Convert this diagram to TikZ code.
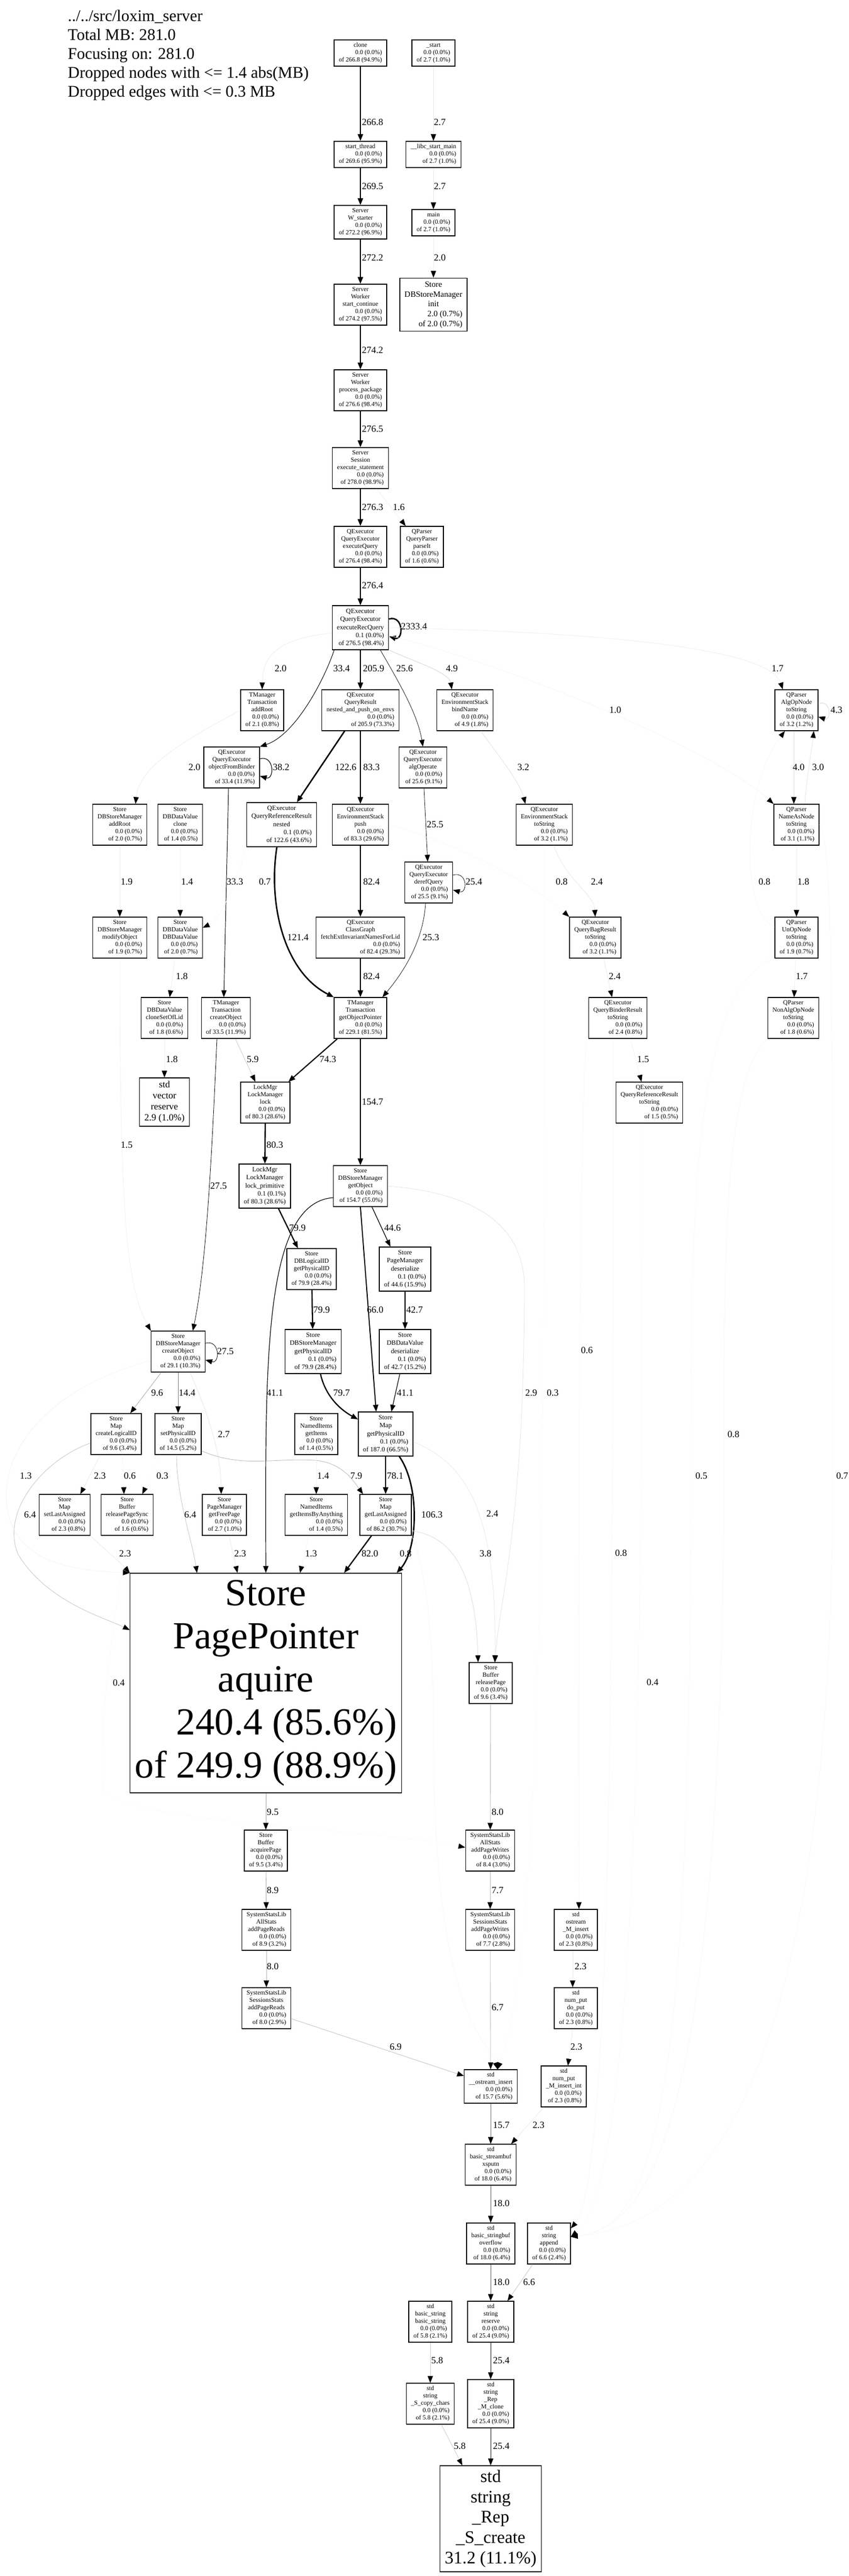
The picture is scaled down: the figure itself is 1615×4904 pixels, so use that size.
\documentclass[tikz,border=0pt]{standalone}
\usepackage{fontspec}
\setmainfont{Liberation Serif}
\usetikzlibrary{arrows.meta}
\newcommand{\fnt}[1]{\begin{tabular}{@{}c@{}}#1\end{tabular}}
\newcommand{\hdt}[1]{\begin{tabular}{@{}l@{}}#1\end{tabular}}
\tikzstyle{fn} = [rectangle, draw=black, line width=1.3pt, inner xsep=9pt, inner ysep=4pt, font=\fontsize{12}{14}\selectfont]
\tikzstyle{fnb} = [fn, font=\fontsize{12.6}{15.2}\selectfont]
\tikzstyle{elab} = [inner sep=0pt, font=\fontsize{18}{20}\selectfont]
\tikzstyle{hdr} = [anchor=north west, inner sep=0pt, font=\fontsize{31}{36}\selectfont]
\tikzset{flow/.style={/utils/exec={\pgfmathsetmacro\flowpct{min(100,3.625*#1)}}, draw=black!\flowpct, line width={max(0.8,min(2.72,0.029*#1))*1pt}, -{Triangle[length=13pt,width=10pt,color=black]}}}
\begin{document}
\begin{tikzpicture}[x=1pt,y=-1pt]
\useasboundingbox (0,0) rectangle (1615,4904);
\fill [white] (0,0) rectangle (1615,4904);
\node (head) [hdr] at (129,15) {\hdt{../../src/loxim\_server\\Total MB: 281.0\\Focusing on: 281.0\\Dropped nodes with <= 1.4 abs(MB)\\Dropped edges with <= 0.3 MB}};

\node (clone) [fn] at (686,101) {\fnt{clone\\\hfill 0.0 (0.0\%)\\\hfill of 266.8 (94.9\%)}};
\node (start) [fn] at (825,101) {\fnt{\_start\\\hfill 0.0 (0.0\%)\\\hfill of 2.7 (1.0\%)}};
\node (thr) [fn] at (686,294) {\fnt{start\_thread\\\hfill 0.0 (0.0\%)\\\hfill of 269.6 (95.9\%)}};
\node (libc) [fn] at (825,294) {\fnt{\_\_libc\_start\_main\\\hfill 0.0 (0.0\%)\\\hfill of 2.7 (1.0\%)}};
\node (wst) [fn] at (686,423) {\fnt{Server\\W\_starter\\\hfill 0.0 (0.0\%)\\\hfill of 272.2 (96.9\%)}};
\node (main) [fn] at (825,424) {\fnt{main\\\hfill 0.0 (0.0\%)\\\hfill of 2.7 (1.0\%)}};
\node (wsc) [fn] at (686,580) {\fnt{Server\\Worker\\start\_continue\\\hfill 0.0 (0.0\%)\\\hfill of 274.2 (97.5\%)}};
\node (init) [fn, font=\fontsize{15.6}{18.7}\selectfont] at (825,580) {\fnt{Store\\DBStoreManager\\init\\\hfill 2.0 (0.7\%)\\\hfill of 2.0 (0.7\%)}};
\node (wpp) [fn] at (686,743) {\fnt{Server\\Worker\\process\_package\\\hfill 0.0 (0.0\%)\\\hfill of 276.6 (98.4\%)}};
\node (ses) [fn] at (686,891) {\fnt{Server\\Session\\execute\_statement\\\hfill 0.0 (0.0\%)\\\hfill of 278.0 (98.9\%)}};
\node (exq) [fn] at (686,1041) {\fnt{QExecutor\\QueryExecutor\\executeQuery\\\hfill 0.0 (0.0\%)\\\hfill of 276.4 (98.4\%)}};
\node (prs) [fn] at (803,1041) {\fnt{QParser\\QueryParser\\parseIt\\\hfill 0.0 (0.0\%)\\\hfill of 1.6 (0.6\%)}};
\node (erq) [fnb] at (686,1195) {\fnt{QExecutor\\QueryExecutor\\executeRecQuery\\\hfill 0.1 (0.0\%)\\\hfill of 276.5 (98.4\%)}};
\node (tadd) [fn] at (499,1352) {\fnt{TManager\\Transaction\\addRoot\\\hfill 0.0 (0.0\%)\\\hfill of 2.1 (0.8\%)}};
\node (nap) [fn] at (686,1352) {\fnt{QExecutor\\QueryResult\\nested\_and\_push\_on\_envs\\\hfill 0.0 (0.0\%)\\\hfill of 205.9 (73.3\%)}};
\node (bind) [fn] at (885,1352) {\fnt{QExecutor\\EnvironmentStack\\bindName\\\hfill 0.0 (0.0\%)\\\hfill of 4.9 (1.8\%)}};
\node (algts) [fn] at (1516,1352) {\fnt{QParser\\AlgOpNode\\toString\\\hfill 0.0 (0.0\%)\\\hfill of 3.2 (1.2\%)}};
\node (ofb) [fn] at (441,1461) {\fnt{QExecutor\\QueryExecutor\\objectFromBinder\\\hfill 0.0 (0.0\%)\\\hfill of 33.4 (11.9\%)}};
\node (alg) [fn] at (805,1461) {\fnt{QExecutor\\QueryExecutor\\algOperate\\\hfill 0.0 (0.0\%)\\\hfill of 25.6 (9.1\%)}};
\node (sadd) [fn] at (228,1570) {\fnt{Store\\DBStoreManager\\addRoot\\\hfill 0.0 (0.0\%)\\\hfill of 2.0 (0.7\%)}};
\node (dvcl) [fn] at (343,1570) {\fnt{Store\\DBDataValue\\clone\\\hfill 0.0 (0.0\%)\\\hfill of 1.4 (0.5\%)}};
\node (qrn) [fnb] at (536,1570) {\fnt{QExecutor\\QueryReferenceResult\\nested\\\hfill 0.1 (0.0\%)\\\hfill of 122.6 (43.6\%)}};
\node (push) [fn] at (686,1570) {\fnt{QExecutor\\EnvironmentStack\\push\\\hfill 0.0 (0.0\%)\\\hfill of 83.3 (29.6\%)}};
\node (ests) [fn] at (1036,1570) {\fnt{QExecutor\\EnvironmentStack\\toString\\\hfill 0.0 (0.0\%)\\\hfill of 3.2 (1.1\%)}};
\node (nats) [fn] at (1516,1570) {\fnt{QParser\\NameAsNode\\toString\\\hfill 0.0 (0.0\%)\\\hfill of 3.1 (1.1\%)}};
\node (deref) [fn] at (816,1680) {\fnt{QExecutor\\QueryExecutor\\derefQuery\\\hfill 0.0 (0.0\%)\\\hfill of 25.5 (9.1\%)}};
\node (modo) [fn] at (228,1785) {\fnt{Store\\DBStoreManager\\modifyObject\\\hfill 0.0 (0.0\%)\\\hfill of 1.9 (0.7\%)}};
\node (dvdv) [fn] at (343,1785) {\fnt{Store\\DBDataValue\\DBDataValue\\\hfill 0.0 (0.0\%)\\\hfill of 2.0 (0.7\%)}};
\node (fext) [fn] at (686,1785) {\fnt{QExecutor\\ClassGraph\\fetchExtInvariantNamesForLid\\\hfill 0.0 (0.0\%)\\\hfill of 82.4 (29.3\%)}};
\node (qbts) [fn] at (1133,1785) {\fnt{QExecutor\\QueryBagResult\\toString\\\hfill 0.0 (0.0\%)\\\hfill of 3.2 (1.1\%)}};
\node (unts) [fn] at (1516,1785) {\fnt{QParser\\UnOpNode\\toString\\\hfill 0.0 (0.0\%)\\\hfill of 1.9 (0.7\%)}};
\node (csl) [fn] at (313,1938) {\fnt{Store\\DBDataValue\\cloneSetOfLid\\\hfill 0.0 (0.0\%)\\\hfill of 1.8 (0.6\%)}};
\node (tco) [fn] at (430,1938) {\fnt{TManager\\Transaction\\createObject\\\hfill 0.0 (0.0\%)\\\hfill of 33.5 (11.9\%)}};
\node (gop) [fn] at (686,1938) {\fnt{TManager\\Transaction\\getObjectPointer\\\hfill 0.0 (0.0\%)\\\hfill of 229.1 (81.5\%)}};
\node (qbrts) [fn] at (1176,1938) {\fnt{QExecutor\\QueryBinderResult\\toString\\\hfill 0.0 (0.0\%)\\\hfill of 2.4 (0.8\%)}};
\node (nonts) [fn] at (1510,1938) {\fnt{QParser\\NonAlgOpNode\\toString\\\hfill 0.0 (0.0\%)\\\hfill of 1.8 (0.6\%)}};
\node (vres) [fn, font=\fontsize{18}{21}\selectfont] at (313,2098) {\fnt{std\\vector\\reserve\\\hfill 2.9 (1.0\%)}};
\node (lock) [fn] at (505,2099) {\fnt{LockMgr\\LockManager\\lock\\\hfill 0.0 (0.0\%)\\\hfill of 80.3 (28.6\%)}};
\node (qrrts) [fn] at (1236,2099) {\fnt{QExecutor\\QueryReferenceResult\\toString\\\hfill 0.0 (0.0\%)\\\hfill of 1.5 (0.5\%)}};
\node (lockp) [fnb] at (504,2258) {\fnt{LockMgr\\LockManager\\lock\_primitive\\\hfill 0.1 (0.1\%)\\\hfill of 80.3 (28.6\%)}};
\node (gobj) [fn] at (686,2258) {\fnt{Store\\DBStoreManager\\getObject\\\hfill 0.0 (0.0\%)\\\hfill of 154.7 (55.0\%)}};
\node (lgpid) [fn] at (593,2416) {\fnt{Store\\DBLogicalID\\getPhysicalID\\\hfill 0.0 (0.0\%)\\\hfill of 79.9 (28.4\%)}};
\node (pmds) [fnb] at (771,2416) {\fnt{Store\\PageManager\\deserialize\\\hfill 0.1 (0.0\%)\\\hfill of 44.6 (15.9\%)}};
\node (sco) [fn] at (339,2573) {\fnt{Store\\DBStoreManager\\createObject\\\hfill 0.0 (0.0\%)\\\hfill of 29.1 (10.3\%)}};
\node (sgpid) [fnb] at (596,2573) {\fnt{Store\\DBStoreManager\\getPhysicalID\\\hfill 0.1 (0.0\%)\\\hfill of 79.9 (28.4\%)}};
\node (dvds) [fnb] at (771,2573) {\fnt{Store\\DBDataValue\\deserialize\\\hfill 0.1 (0.0\%)\\\hfill of 42.7 (15.2\%)}};
\node (mcl) [fn] at (221,2730) {\fnt{Store\\Map\\createLogicalID\\\hfill 0.0 (0.0\%)\\\hfill of 9.6 (3.4\%)}};
\node (mspid) [fn] at (339,2730) {\fnt{Store\\Map\\setPhysicalID\\\hfill 0.0 (0.0\%)\\\hfill of 14.5 (5.2\%)}};
\node (nig) [fn] at (602,2730) {\fnt{Store\\NamedItems\\getItems\\\hfill 0.0 (0.0\%)\\\hfill of 1.4 (0.5\%)}};
\node (mgpid) [fnb] at (734,2730) {\fnt{Store\\Map\\getPhysicalID\\\hfill 0.1 (0.0\%)\\\hfill of 187.0 (66.5\%)}};
\node (msla) [fn] at (123,2884) {\fnt{Store\\Map\\setLastAssigned\\\hfill 0.0 (0.0\%)\\\hfill of 2.3 (0.8\%)}};
\node (rps) [fn] at (242,2884) {\fnt{Store\\Buffer\\releasePageSync\\\hfill 0.0 (0.0\%)\\\hfill of 1.6 (0.6\%)}};
\node (gfp) [fn] at (427,2884) {\fnt{Store\\PageManager\\getFreePage\\\hfill 0.0 (0.0\%)\\\hfill of 2.7 (1.0\%)}};
\node (niba) [fn] at (602,2884) {\fnt{Store\\NamedItems\\getItemsByAnything\\\hfill 0.0 (0.0\%)\\\hfill of 1.4 (0.5\%)}};
\node (mgla) [fn] at (734,2884) {\fnt{Store\\Map\\getLastAssigned\\\hfill 0.0 (0.0\%)\\\hfill of 86.2 (30.7\%)}};
\node (ppa) [fn, font=\fontsize{73}{82}\selectfont] at (506,3204) {\fnt{Store\\PagePointer\\aquire\\\hfill 240.4 (85.6\%)\\\hfill of 249.9 (88.9\%)}};
\node (rpg) [fn] at (934,3204) {\fnt{Store\\Buffer\\releasePage\\\hfill 0.0 (0.0\%)\\\hfill of 9.6 (3.4\%)}};
\node (apg) [fn] at (506,3523) {\fnt{Store\\Buffer\\acquirePage\\\hfill 0.0 (0.0\%)\\\hfill of 9.5 (3.4\%)}};
\node (awr) [fn] at (933,3523) {\fnt{SystemStatsLib\\AllStats\\addPageWrites\\\hfill 0.0 (0.0\%)\\\hfill of 8.4 (3.0\%)}};
\node (ard) [fn] at (507,3674) {\fnt{SystemStatsLib\\AllStats\\addPageReads\\\hfill 0.0 (0.0\%)\\\hfill of 8.9 (3.2\%)}};
\node (swr) [fn] at (933,3674) {\fnt{SystemStatsLib\\SessionsStats\\addPageWrites\\\hfill 0.0 (0.0\%)\\\hfill of 7.7 (2.8\%)}};
\node (osmi) [fn] at (1096,3674) {\fnt{std\\ostream\\\_M\_insert\\\hfill 0.0 (0.0\%)\\\hfill of 2.3 (0.8\%)}};
\node (srd) [fn] at (507,3823) {\fnt{SystemStatsLib\\SessionsStats\\addPageReads\\\hfill 0.0 (0.0\%)\\\hfill of 8.0 (2.9\%)}};
\node (npdp) [fn] at (1096,3823) {\fnt{std\\num\_put\\do\_put\\\hfill 0.0 (0.0\%)\\\hfill of 2.3 (0.8\%)}};
\node (osi) [fn] at (934,3972) {\fnt{std\\\_\_ostream\_insert\\\hfill 0.0 (0.0\%)\\\hfill of 15.7 (5.6\%)}};
\node (npmi) [fn] at (1073,3972) {\fnt{std\\num\_put\\\_M\_insert\_int\\\hfill 0.0 (0.0\%)\\\hfill of 2.3 (0.8\%)}};
\node (xsp) [fn] at (934,4121) {\fnt{std\\basic\_streambuf\\xsputn\\\hfill 0.0 (0.0\%)\\\hfill of 18.0 (6.4\%)}};
\node (ovf) [fn] at (934,4271) {\fnt{std\\basic\_stringbuf\\overflow\\\hfill 0.0 (0.0\%)\\\hfill of 18.0 (6.4\%)}};
\node (sapp) [fn] at (1045,4271) {\fnt{std\\string\\append\\\hfill 0.0 (0.0\%)\\\hfill of 6.6 (2.4\%)}};
\node (bsbs) [fn] at (819,4420) {\fnt{std\\basic\_string\\basic\_string\\\hfill 0.0 (0.0\%)\\\hfill of 5.8 (2.1\%)}};
\node (sres) [fn] at (934,4420) {\fnt{std\\string\\reserve\\\hfill 0.0 (0.0\%)\\\hfill of 25.4 (9.0\%)}};
\node (scc) [fn] at (819,4576) {\fnt{std\\string\\\_S\_copy\_chars\\\hfill 0.0 (0.0\%)\\\hfill of 5.8 (2.1\%)}};
\node (mcln) [fn] at (934,4576) {\fnt{std\\string\\\_Rep\\\_M\_clone\\\hfill 0.0 (0.0\%)\\\hfill of 25.4 (9.0\%)}};
\node (scr) [fn, font=\fontsize{33.5}{38.8}\selectfont] at (934,4795) {\fnt{std\\string\\\_Rep\\\_S\_create\\\hfill 31.2 (11.1\%)}};

\draw [flow=266.8] (clone) -- (thr) node[elab] at (709,233) {266.8};
\draw [flow=2.7] (start) -- (libc) node[elab] at (837,233) {2.7};
\draw [flow=269.5] (thr) -- (wst) node[elab] at (709,355) {269.5};
\draw [flow=2.7] (libc) -- (main) node[elab] at (837,355) {2.7};
\draw [flow=272.2] (wst) -- (wsc) node[elab] at (709,491) {272.2};
\draw [flow=2.0] (main) -- (init) node[elab] at (837,491) {2.0};
\draw [flow=274.2] (wsc) -- (wpp) node[elab] at (709,667) {274.2};
\draw [flow=276.5] (wpp) -- (ses) node[elab] at (709,817) {276.5};
\draw [flow=276.3] (ses) -- (exq) node[elab] at (709,966) {276.3};
\draw [flow=1.6] (ses) -- (prs) node[elab] at (759,966) {1.6};
\draw [flow=276.4] (exq) -- (erq) node[elab] at (709,1115) {276.4};
\draw [flow=2333.4] (erq.17) .. controls +(28,-8) and +(28,8) .. (erq.-17) node[elab] at (788,1193) {2333.4};
\draw [flow=2.0] ([yshift=-10pt]erq.west) .. controls (540,1215) and (500,1240) .. (tadd.north) node[elab] at (534,1273) {2.0};
\draw [flow=33.4] ([xshift=-50pt]erq.south) .. controls (615,1300) and (560,1400) .. (ofb.north east) node[elab] at (650,1273) {33.4};
\draw [flow=205.9] (erq) -- (nap) node[elab] at (711,1273) {205.9};
\draw [flow=25.6] ([xshift=38pt]erq.south) .. controls (760,1300) and (795,1360) .. (alg.north) node[elab] at (770,1273) {25.6};
\draw [flow=4.9] (erq.south east) .. controls (790,1260) and (855,1280) .. ([xshift=-25pt]bind.north) node[elab] at (860,1273) {4.9};
\draw [flow=1.7] (erq.east) .. controls (1000,1200) and (1460,1220) .. ([xshift=-26pt]algts.north) node[elab] at (1480,1273) {1.7};
\draw [flow=1.0] ([yshift=-15pt]erq.east) .. controls (950,1260) and (1350,1420) .. (nats.north west) node[elab] at (1171,1352) {1.0};
\draw [flow=4.3] (algts.17) .. controls +(25,-8) and +(25,8) .. (algts.-17) node[elab] at (1592,1352) {4.3};
\draw [flow=4.0] ([xshift=-5pt]algts.south) -- ([xshift=-5pt]nats.north) node[elab] at (1520,1461) {4.0};
\draw [flow=3.0] ([xshift=16pt]nats.north) .. controls (1535,1480) and (1545,1430) .. ([xshift=33pt]algts.south) node[elab] at (1557,1461) {3.0};
\draw [flow=0.8] ([yshift=20pt]unts.west) .. controls (1410,1740) and (1410,1500) .. ([xshift=-22pt]algts.south) node[elab] at (1455,1679) {0.8};
\draw [flow=1.8] (nats) -- (unts) node[elab] at (1529,1679) {1.8};
\draw [flow=1.7] (unts) -- (nonts) node[elab] at (1526,1859) {1.7};
\draw [flow=2.0] (tadd.west) .. controls (390,1390) and (265,1450) .. ([xshift=30pt]sadd.north) node[elab] at (370,1461) {2.0};
\draw [flow=38.2] (ofb.17) .. controls +(28,-8) and +(28,8) .. (ofb.-17) node[elab] at (535,1461) {38.2};
\draw [flow=33.3] ([xshift=-6pt]ofb.south) -- ([xshift=-4pt]tco.north) node[elab] at (447,1679) {33.3};
\draw [flow=122.6] ([xshift=-30pt]nap.south) -- ([xshift=29pt]qrn.north) node[elab] at (658,1461) {122.6};
\draw [flow=83.3] (nap) -- (push) node[elab] at (707,1461) {83.3};
\draw [flow=25.5] (alg) -- (deref) node[elab] at (828,1570) {25.5};
\draw [flow=3.2] ([xshift=30pt]bind.south) .. controls (950,1440) and (990,1490) .. ([xshift=-36pt]ests.north) node[elab] at (996,1461) {3.2};
\draw [flow=1.9] (sadd) -- (modo) node[elab] at (241,1679) {1.9};
\draw [flow=1.4] (dvcl) -- (dvdv) node[elab] at (356,1679) {1.4};
\draw [flow=121.4] ([xshift=-9pt]qrn.south) .. controls (510,1720) and (540,1850) .. (gop.north west) node[elab] at (567,1785) {121.4};
\draw [flow=0.7] (qrn.south west) .. controls (450,1680) and (420,1750) .. ([yshift=19pt]dvdv.east) node[elab] at (504,1679) {0.7};
\draw [flow=82.4] (push) -- (fext) node[elab] at (707,1679) {82.4};
\draw [flow=25.4] (deref.17) .. controls +(28,-8) and +(28,8) .. (deref.-17) node[elab] at (902,1679) {25.4};
\draw [flow=25.3] ([xshift=-6pt]deref.south) .. controls (805,1800) and (760,1860) .. ([xshift=42pt]gop.north) node[elab] at (820,1785) {25.3};
\draw [flow=2.4] ([xshift=18pt]ests.south) .. controls (1080,1680) and (1130,1700) .. (qbts.north) node[elab] at (1136,1679) {2.4};
\draw [flow=0.8] (push.east) .. controls (850,1600) and (1000,1670) .. (qbts.north west) node[elab] at (1069,1679) {0.8};
\draw [flow=2.4] ([xshift=16pt]qbts.south) -- ([xshift=-11pt]qbrts.north) node[elab] at (1170,1859) {2.4};
\draw [flow=1.5] ([xshift=24pt]qbrts.south) -- ([xshift=-15pt]qrrts.north) node[elab] at (1224,2017) {1.5};
\draw [flow=1.8] ([xshift=-10pt]dvdv.south) -- ([xshift=10pt]csl.north) node[elab] at (346,1859) {1.8};
\draw [flow=1.8] (csl) -- (vres) node[elab] at (327,2017) {1.8};
\draw [flow=82.4] (fext) -- (gop) node[elab] at (707,1859) {82.4};
\draw [flow=5.9] ([xshift=18pt]tco.south) -- ([xshift=-19pt]lock.north) node[elab] at (481,2017) {5.9};
\draw [flow=74.3] ([xshift=-44pt]gop.south) -- ([xshift=44pt]lock.north) node[elab] at (624,2017) {74.3};
\draw [flow=154.7] (gop) -- (gobj) node[elab] at (709,2098) {154.7};
\draw [flow=27.5] ([xshift=-17pt]tco.south) .. controls (405,2150) and (395,2400) .. ([xshift=28pt]sco.north) node[elab] at (416,2258) {27.5};
\draw [flow=1.5] (modo.south) .. controls (228,2300) and (240,2450) .. (sco.north west) node[elab] at (241,2180) {1.5};
\draw [flow=80.3] (lock) -- (lockp) node[elab] at (523,2180) {80.3};
\draw [flow=79.9] ([xshift=26pt]lockp.south) -- ([xshift=-26pt]lgpid.north) node[elab] at (566,2338) {79.9};
\draw [flow=41.1] ([yshift=-22pt]gobj.west) .. controls (500,2290) and (505,2600) .. (ppa.north) node[elab] at (523,2652) {41.1};
\draw [flow=44.6] ([xshift=22pt]gobj.south) -- ([xshift=-28pt]pmds.north) node[elab] at (747,2338) {44.6};
\draw [flow=66.0] (gobj.south) -- ([xshift=-18pt]mgpid.north) node[elab] at (714,2494) {66.0};
\draw [flow=2.9] (gobj.east) .. controls (900,2270) and (998,2330) .. (998,2450) .. controls (998,2900) and (950,3050) .. ([xshift=8pt]rpg.north) node[elab] at (1011,2652) {2.9};
\draw [flow=42.7] (pmds) -- (dvds) node[elab] at (789,2494) {42.7};
\draw [flow=79.9] (lgpid) -- (sgpid) node[elab] at (612,2494) {79.9};
\draw [flow=79.7] ([xshift=14pt]sgpid.south) .. controls (620,2660) and (650,2685) .. ([yshift=28pt]mgpid.west) node[elab] at (650,2652) {79.7};
\draw [flow=41.1] ([xshift=-10pt]dvds.south) -- ([xshift=11pt]mgpid.north) node[elab] at (771,2652) {41.1};
\draw [flow=27.5] (sco.17) .. controls +(28,-8) and +(28,8) .. (sco.-17) node[elab] at (429,2573) {27.5};
\draw [flow=9.6] ([xshift=-32pt]sco.south) -- ([xshift=27pt]mcl.north) node[elab] at (299,2652) {9.6};
\draw [flow=14.4] (sco) -- (mspid) node[elab] at (356,2652) {14.4};
\draw [flow=2.7] ([xshift=23pt]sco.south) .. controls (395,2690) and (420,2760) .. ([xshift=-6pt]gfp.north) node[elab] at (426,2731) {2.7};
\draw [flow=1.3] ([yshift=-17pt]sco.west) .. controls (100,2640) and (10,2750) .. (12,2850) .. controls (15,2980) and (150,2990) .. (ppa.north west) node[elab] at (49,2810) {1.3};
\draw [flow=6.4] ([yshift=-17pt]mcl.west) .. controls (80,2780) and (0,2880) .. (35,2960) .. controls (90,3050) and (200,3080) .. ([yshift=101pt]ppa.west) node[elab] at (57,2884) {6.4};
\draw [flow=2.3] ([xshift=-30pt]mcl.south) -- ([xshift=30pt]msla.north) node[elab] at (190,2810) {2.3};
\draw [flow=0.6] ([xshift=12pt]mcl.south) -- ([xshift=-6pt]rps.north) node[elab] at (247,2810) {0.6};
\draw [flow=0.3] ([xshift=-34pt]mspid.south) -- ([xshift=29pt]rps.north) node[elab] at (309,2810) {0.3};
\draw [flow=7.9] ([yshift=-32pt]mspid.east) .. controls (460,2795) and (520,2775) .. (600,2780) .. controls (650,2785) and (670,2815) .. ([xshift=-43pt]mgla.north) node[elab] at (678,2810) {7.9};
\draw [flow=6.4] ([xshift=-3pt]mspid.south) .. controls (336,2850) and (365,2930) .. ([xshift=-131pt]ppa.north) node[elab] at (362,2884) {6.4};
\draw [flow=1.4] (nig) -- (niba) node[elab] at (615,2810) {1.4};
\draw [flow=78.1] (mgpid) -- (mgla) node[elab] at (752,2810) {78.1};
\draw [flow=106.3] ([xshift=26pt]mgpid.south) .. controls (800,2830) and (795,2950) .. ([xshift=-10pt]ppa.north east) node[elab] at (822,2884) {106.3};
\draw [flow=2.4] ([yshift=-15pt]mgpid.east) .. controls (900,2790) and (945,2900) .. ([xshift=8pt]rpg.north) node[elab] at (937,2882) {2.4};
\draw [flow=2.3] (msla.south east) .. controls (200,2950) and (230,2975) .. (ppa.north west) node[elab] at (238,2958) {2.3};
\draw [flow=2.3] (gfp) -- ([xshift=-54pt]ppa.north) node[elab] at (457,2958) {2.3};
\draw [flow=1.3] ([xshift=-14pt]niba.south) -- ([xshift=65pt]ppa.north) node[elab] at (592,2958) {1.3};
\draw [flow=82.0] ([xshift=-27pt]mgla.south) -- ([xshift=149pt]ppa.north) node[elab] at (704,2958) {82.0};
\draw [flow=0.8] (mgla.south east) .. controls (800,2960) and (825,3050) .. (825,3300) .. controls (825,3850) and (930,3880) .. ([xshift=13pt]osi.north) node[elab] at (772,2958) {0.8};
\draw [flow=3.8] ([yshift=-30pt]mgla.east) .. controls (860,2925) and (905,2990) .. ([xshift=-24pt]rpg.north) node[elab] at (924,2958) {3.8};
\draw [flow=0.4] (rps.south) .. controls (215,3100) and (190,3250) .. (195,3400) .. controls (200,3470) and (700,3480) .. ([yshift=6pt]awr.west) node[elab] at (226,3204) {0.4};
\draw [flow=0.6] ([yshift=-20pt]qbrts.west) .. controls (1100,1990) and (1100,3400) .. ([xshift=6pt]osmi.north) node[elab] at (1117,2571) {0.6};
\draw [flow=0.3] (ests.south) .. controls (1036,2600) and (1040,3700) .. ([xshift=13pt]osi.north) node[elab] at (1052,2652) {0.3};
\draw [flow=0.8] ([xshift=-9pt]qbrts.south) .. controls (1167,3000) and (1167,4150) .. ([yshift=29pt]sapp.east) node[elab] at (1182,2957) {0.8};
\draw [flow=0.4] ([xshift=-14pt]qrrts.south) .. controls (1222,3000) and (1222,4150) .. ([yshift=13pt]sapp.east) node[elab] at (1242,3203) {0.4};
\draw [flow=0.5] (unts.south west) .. controls (1320,1880) and (1315,2300) .. (1315,2800) .. controls (1315,4000) and (1250,4240) .. ([yshift=13pt]sapp.east) node[elab] at (1335,2810) {0.5};
\draw [flow=0.8] (nonts.south west) .. controls (1378,2050) and (1378,2400) .. (1378,2750) .. controls (1378,4000) and (1250,4240) .. ([yshift=13pt]sapp.east) node[elab] at (1396,2731) {0.8};
\draw [flow=0.7] (nats.east) .. controls (1585,1600) and (1585,1900) .. (1585,2810) .. controls (1585,4050) and (1300,4240) .. ([yshift=13pt]sapp.east) node[elab] at (1603,2810) {0.7};
\draw [flow=9.5] (ppa) -- (apg) node[elab] at (519,3450) {9.5};
\draw [flow=8.9] (apg) -- (ard) node[elab] at (519,3599) {8.9};
\draw [flow=8.0] (ard) -- (srd) node[elab] at (519,3744) {8.0};
\draw [flow=6.9] ([yshift=-20pt]srd.east) -- ([yshift=20pt]osi.west) node[elab] at (753,3897) {6.9};
\draw [flow=8.0] (rpg) -- (awr) node[elab] at (947,3450) {8.0};
\draw [flow=7.7] (awr) -- (swr) node[elab] at (947,3599) {7.7};
\draw [flow=6.7] (swr) -- (osi) node[elab] at (947,3822) {6.7};
\draw [flow=2.3] ([xshift=-6pt]osmi.south) -- ([xshift=-6pt]npdp.north) node[elab] at (1105,3744) {2.3};
\draw [flow=2.3] ([xshift=-6pt]npdp.south) -- ([xshift=8pt]npmi.north) node[elab] at (1097,3897) {2.3};
\draw [flow=2.3] ([xshift=-38pt]npmi.south) -- ([xshift=39pt]xsp.north) node[elab] at (1025,4046) {2.3};
\draw [flow=15.7] (osi) -- (xsp) node[elab] at (954,4046) {15.7};
\draw [flow=18.0] (xsp) -- (ovf) node[elab] at (954,4195) {18.0};
\draw [flow=18.0] (ovf) -- (sres) node[elab] at (954,4345) {18.0};
\draw [flow=6.6] ([xshift=-31pt]sapp.south) -- ([xshift=32pt]sres.north) node[elab] at (1007,4345) {6.6};
\draw [flow=25.4] (sres) -- (mcln) node[elab] at (954,4494) {25.4};
\draw [flow=5.8] (bsbs) -- (scc) node[elab] at (832,4494) {5.8};
\draw [flow=5.8] ([xshift=21pt]scc.south) -- ([xshift=-54pt]scr.north) node[elab] at (875,4657) {5.8};
\draw [flow=25.4] (mcln) -- (scr) node[elab] at (954,4657) {25.4};

\end{tikzpicture}
\end{document}
